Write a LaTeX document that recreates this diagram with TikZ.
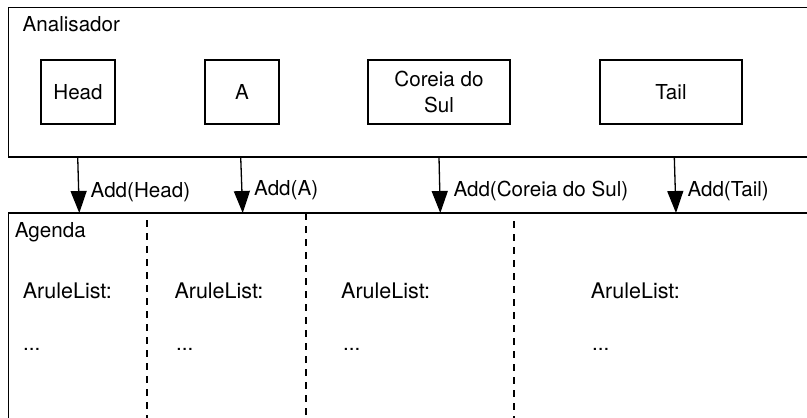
\documentclass[tikz,border=0pt]{standalone}
\usepackage{fontspec}
\setmainfont{TeX Gyre Heros}
\usetikzlibrary{arrows.meta}

\tikzset{
  frame/.style={draw=black, line width=1.3pt},
  elem/.style={draw=black, line width=1.3pt, rectangle, inner sep=0pt,
               minimum height=64pt, align=center},
  narrow/.style={elem, minimum width=74pt},
  wide/.style={elem, minimum width=142pt},
  addarrow/.style={draw=black, line width=1.3pt,
                   -{Triangle[length=22pt,width=16pt]}},
  divider/.style={draw=black, line width=1.3pt, dash pattern=on 7pt off 6pt},
  lbl/.style={anchor=base west, inner sep=0pt},
  listlbl/.style={lbl, font=\fontsize{21.5}{26}\selectfont},
}

\begin{document}
\begin{tikzpicture}[x=1pt, y=-1pt, font=\fontsize{20.6}{25.5}\selectfont]
  \clip (0,0) rectangle (807,418);

  % parser container and agenda container (both run past the right edge)
  \draw[frame] (8.5,7.5) rectangle (840,157);
  \draw[frame] (8.5,213) rectangle (840,450);

  \node[lbl] (analisador) at (22.5,31.7) {Analisador};
  \node[lbl] (agenda) at (14.7,237) {Agenda};

  % tokens held by the parser
  \node[narrow] (head)   at (78,92)  {Head};
  \node[narrow] (a)      at (242,92) {A};
  \node[wide]   (coreia) at (439,92) {Coreia do\\Sul};
  \node[wide]   (tail)   at (671,92) {Tail};

  % connector end points on the two containers
  \coordinate (hs) at (77.7,157);  \coordinate (he) at (79.3,213);
  \coordinate (as) at (240.7,157); \coordinate (ae) at (242.7,213);
  \coordinate (cs) at (439,157);   \coordinate (ce) at (440.3,213);
  \coordinate (ts) at (674.3,157); \coordinate (te) at (676,213);

  \draw[addarrow] (hs) -- (he);
  \draw[addarrow] (as) -- (ae);
  \draw[addarrow] (cs) -- (ce);
  \draw[addarrow] (ts) -- (te);

  \node[lbl] (lh) at (90.5,197.5) {Add(Head)};
  \node[lbl] (la) at (254,195.5)  {Add(A)};
  \node[lbl] (lc) at (453.3,196.5) {Add(Coreia do Sul)};
  \node[lbl] (lt) at (687.3,196.5) {Add(Tail)};

  % dashed separators between agenda columns
  \coordinate (d1t) at (147,220); \coordinate (d1b) at (147,430);
  \coordinate (d2t) at (306,213); \coordinate (d2b) at (306,430);
  \coordinate (d3t) at (514,221); \coordinate (d3b) at (514,430);
  \draw[divider] (d1t) -- (d1b);
  \draw[divider] (d2t) -- (d2b);
  \draw[divider] (d3t) -- (d3b);

  % column contents
  \node[listlbl] (l1) at (22.7,298.3)  {AruleList:};
  \node[listlbl] (l2) at (174.3,298.3) {AruleList:};
  \node[listlbl] (l3) at (341,298.3)   {AruleList:};
  \node[listlbl] (l4) at (590.7,298.3) {AruleList:};

  \node[lbl] (e1) at (23,350.5)  {...};
  \node[lbl] (e2) at (176,350.5) {...};
  \node[lbl] (e3) at (343,350.5) {...};
  \node[lbl] (e4) at (592,350.5) {...};
\end{tikzpicture}
\end{document}
